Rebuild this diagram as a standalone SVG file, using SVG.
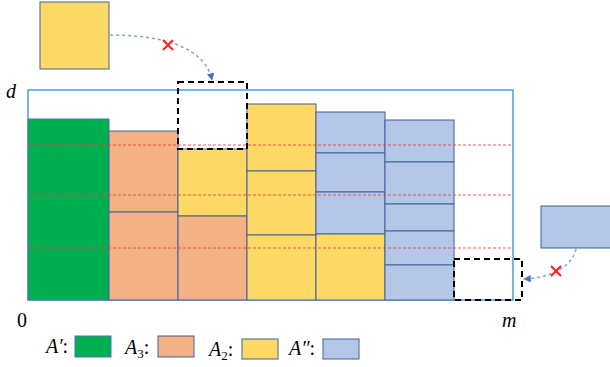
<svg xmlns="http://www.w3.org/2000/svg" width="610" height="367" viewBox="0 0 610 367">
<style>
.g{fill:#00B050;stroke:#4472C4;stroke-width:1}
.o{fill:#F4B183;stroke:#41619C;stroke-width:1}
.y{fill:#FFD966;stroke:#41619C;stroke-width:1}
.b{fill:#B4C7E7;stroke:#41619C;stroke-width:1}
.sp{stroke:#7F7F9F;stroke-width:1.2}
.red{stroke:#F03C3C;stroke-width:1;stroke-dasharray:3,2;opacity:0.85;fill:none}
.blk{fill:none;stroke:#000;stroke-width:2;stroke-dasharray:6,4}
.arr{fill:none;stroke:#7FA0DC;stroke-width:1.5;stroke-dasharray:3,3}
.x{stroke:#FF1E1E;stroke-width:2}
.t{font-family:'Liberation Serif',serif;font-size:20px;fill:#000}
.ti{font-family:'Liberation Serif',serif;font-style:italic;font-size:20px;fill:#000}
</style>
<defs>
<marker id="ah" viewBox="0 0 10 10" refX="9" refY="5" markerWidth="5" markerHeight="5" orient="auto">
<path d="M0,0 L10,5 L0,10 z" fill="#4472C4"/>
</marker>
</defs>
<rect id="container" x="28" y="90" width="485" height="210" fill="#fff" stroke="#2E8FD8" stroke-width="1.3"/>
<g id="col1"><rect class="g" x="28" y="119" width="81" height="181"/></g>
<g id="col2"><rect class="o" x="109" y="131" width="69" height="81"/><rect class="o" x="109" y="212" width="69" height="88"/></g>
<g id="col3"><rect class="y" x="178" y="149" width="69" height="67"/><rect class="o" x="178" y="216" width="69" height="84"/></g>
<g id="col4"><rect class="y" x="247" y="104" width="69" height="67"/><rect class="y" x="247" y="171" width="69" height="64"/><rect class="y" x="247" y="235" width="69" height="65"/></g>
<g id="col5"><rect class="b" x="316" y="112" width="69" height="41"/><rect class="b" x="316" y="153" width="69" height="39"/><rect class="b" x="316" y="192" width="69" height="42"/><rect class="y" x="316" y="234" width="69" height="66"/></g>
<g id="col6"><rect class="b" x="385" y="120" width="69" height="42"/><rect class="b" x="385" y="162" width="69" height="42"/><rect class="b" x="385" y="204" width="69" height="27"/><rect class="b" x="385" y="231" width="69" height="34"/><rect class="b" x="385" y="265" width="69" height="35"/></g>
<g id="levels">
<line class="red" x1="28" y1="145" x2="513" y2="145"/>
<line class="red" x1="28" y1="195" x2="513" y2="195"/>
<line class="red" x1="28" y1="248" x2="513" y2="248"/>
</g>
<g id="slot1"><rect class="blk" x="178" y="82" width="69" height="67"/></g>
<g id="slot2"><rect class="blk" x="454" y="259" width="68" height="41"/></g>
<g id="item1"><rect class="y" x="40" y="2" width="69" height="67"/></g>
<g id="item2"><rect class="b" x="541" y="206" width="72" height="42"/></g>
<g id="connectors">
<path class="arr" d="M110,35 C165,35 205,48 212,80" marker-end="url(#ah)"/>
<path class="arr" d="M576,249 C572,268 548,278 524,279" marker-end="url(#ah)"/>
<path class="x" d="M163,40 L173,50 M173,40 L163,50"/>
<path class="x" d="M551,266 L561,276 M561,266 L551,276"/>
</g>
<text class="ti" x="6" y="98">d</text>
<text class="t" x="17" y="327">0</text>
<text class="ti" x="502" y="327">m</text>
<g id="legend">
<text class="ti" x="46" y="353">A′<tspan font-style="normal">:</tspan></text>
<rect class="g" x="75" y="336" width="36" height="21"/>
<text class="ti" x="125" y="354">A<tspan font-style="normal" font-size="13" dy="4">3</tspan><tspan font-style="normal" dy="-4">:</tspan></text>
<rect class="o" x="158" y="336" width="36" height="21"/>
<text class="ti" x="209" y="356">A<tspan font-style="normal" font-size="13" dy="4">2</tspan><tspan font-style="normal" dy="-4">:</tspan></text>
<rect class="y" x="242" y="339" width="36" height="20"/>
<text class="ti" x="289" y="355">A″<tspan font-style="normal">:</tspan></text>
<rect class="b" x="323" y="339" width="36" height="20"/>
</g>
</svg>
